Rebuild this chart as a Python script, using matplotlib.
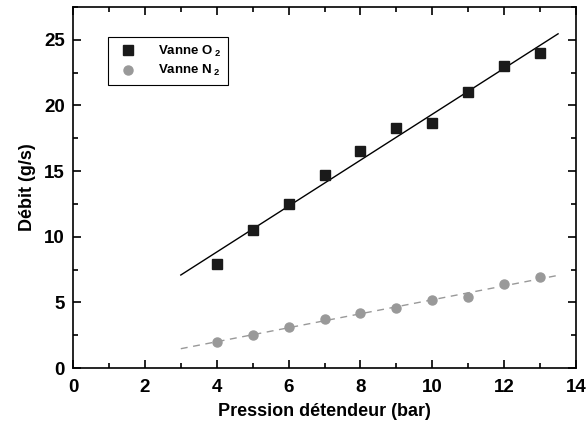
import numpy as np
import matplotlib
matplotlib.use('Agg')
import matplotlib.pyplot as plt
from matplotlib.ticker import MultipleLocator

plt.rcParams['font.family'] = ['Liberation Sans', 'DejaVu Sans']
plt.rcParams['font.weight'] = 'bold'
plt.rcParams['mathtext.fontset'] = 'custom'
plt.rcParams['mathtext.rm'] = 'Liberation Sans:bold'
plt.rcParams['mathtext.bf'] = 'Liberation Sans:bold'

pression = [4, 5, 6, 7, 8, 9, 10, 11, 12, 13]
debit_o2 = [7.9, 10.5, 12.5, 14.7, 16.5, 18.3, 18.7, 21.0, 23.0, 24.0]
debit_n2 = [2.0, 2.5, 3.1, 3.7, 4.2, 4.6, 5.2, 5.4, 6.4, 6.9]

x = np.array(pression)
p_o2 = np.polyfit(x, debit_o2, 1)
p_n2 = np.polyfit(x, debit_n2, 1)
t = np.linspace(3, 13.5, 100)

fig = plt.figure(figsize=(5.86, 4.25), dpi=100)
ax = fig.add_axes([0.1246, 0.134, 0.8584, 0.8495])

ax.plot(t, np.polyval(p_o2, t), 'k-', lw=1.0)
ax.plot(t, np.polyval(p_n2, t), '--', color='#999999', lw=1.0, dashes=(5, 4))
ax.plot(x, debit_o2, 's', color='#1a1a1a', ms=6.5, label=r'Vanne O$\,_{2}$')
ax.plot(x, debit_n2, 'o', color='#999999', ms=6.5, label=r'Vanne N$\,_{2}$')

ax.set_xlim(0, 14)
ax.set_ylim(0, 27.5)
ax.xaxis.set_major_locator(MultipleLocator(2))
ax.xaxis.set_minor_locator(MultipleLocator(1))
ax.yaxis.set_major_locator(MultipleLocator(5))
ax.yaxis.set_minor_locator(MultipleLocator(2.5))
ax.tick_params(which='both', direction='in', top=True, right=True, width=1.2)
ax.tick_params(which='major', length=6, labelsize=13.5, pad=6)
ax.tick_params(axis='x', which='major', pad=8)
ax.tick_params(which='minor', length=3.5)
for s in ax.spines.values():
    s.set_linewidth(1.2)

ax.set_xlabel('Pression détendeur (bar)', fontsize=13, fontweight='bold', labelpad=5)
ax.set_ylabel('Débit (g/s)', fontsize=13, fontweight='bold', labelpad=6)

leg = ax.legend(loc='upper left', bbox_to_anchor=(0.07, 0.917), fontsize=9.5,
                fancybox=False, edgecolor='black', framealpha=1,
                handletextpad=1.3, borderpad=0.5, labelspacing=0.35,
                handlelength=2.0, borderaxespad=0)
leg.get_frame().set_linewidth(0.8)

fig.savefig('out.png', dpi=100)
